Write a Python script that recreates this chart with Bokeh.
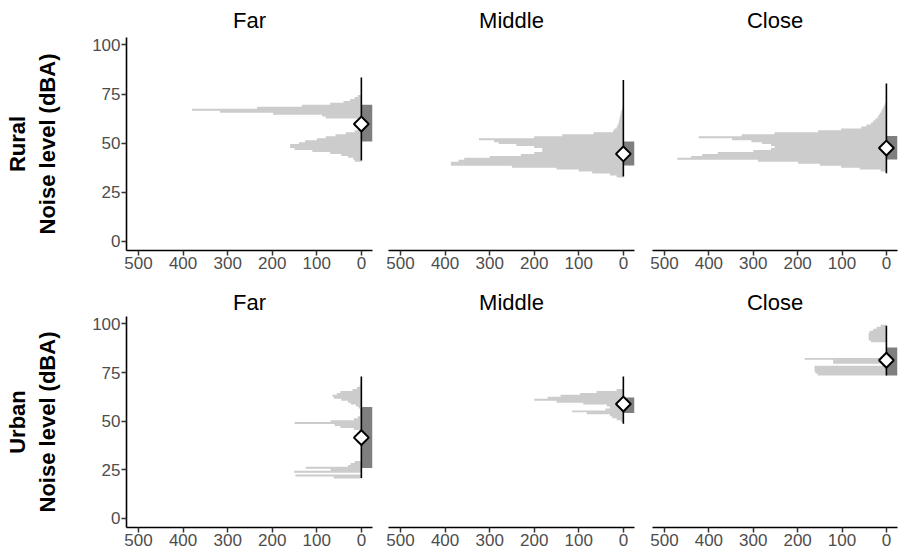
import math
from bokeh.plotting import figure
from bokeh.layouts import row, column
from bokeh.models import Range1d, FixedTicker
from bokeh.embed import file_html
from bokeh.resources import INLINE

# ---------------- data ----------------
area_labels = ["Rural", "Urban"]
distance_labels = ["Far", "Middle", "Close"]
x_ticks = [0, 100, 200, 300, 400, 500]
y_ticks = [0, 25, 50, 75, 100]

# histogram bins (noise level, dBA, 1-dBA wide) and counts per panel
rural_far_levels = list(range(41, 75))
rural_far_counts = [15, 18, 30, 45, 70, 110, 150, 160, 160, 140, 126, 100, 80, 58, 35,
                    15, 0, 0, 0, 0, 0, 3, 80, 88, 198, 317, 380, 234, 133, 70, 40, 25, 15, 8]

rural_middle_levels = list(range(33, 69))
rural_middle_counts = [15, 30, 70, 100, 150, 250, 387, 387, 370, 357, 300, 230, 200, 182, 182,
                       200, 240, 280, 290, 324, 200, 137, 67, 23, 20, 15, 13, 11, 10, 9, 8, 7,
                       6, 5, 3, 2]

rural_close_levels = list(range(36, 71))
rural_close_counts = [13, 60, 102, 150, 199, 289, 471, 440, 415, 380, 300, 260, 252, 260, 280,
                      304, 348, 423, 326, 252, 154, 102, 57, 45, 35, 30, 25, 20, 18, 15, 12,
                      10, 7, 5, 3]

urban_far_levels = list(range(21, 74))
urban_far_counts = [62, 148, 0, 151, 69, 125, 30, 24, 15,
                    0, 0, 0, 0, 0, 0, 0, 0, 0, 0, 0, 0, 0, 0, 0,
                    5, 17, 47, 60, 150, 69, 17, 8,
                    3, 3, 3, 3, 6, 12, 24, 30, 45, 62, 65, 55, 47, 20, 10, 4, 2, 2, 2, 1, 1]

urban_middle_levels = list(range(50, 67))
urban_middle_counts = [5, 15, 25, 30, 82, 115, 40, 30, 37, 90, 150, 200, 170, 141, 97, 60, 15]

urban_close_levels = list(range(74, 100))
urban_close_counts = [155, 160, 162, 162, 162, 10, 120, 120, 184,
                      0, 0, 0, 0, 0, 0, 0, 0,
                      35, 40, 40, 40, 40, 38, 30, 22, 13]

# box summary per panel: Rural Far, Rural Middle, Rural Close, Urban Far, Urban Middle, Urban Close
box_q1 = [50.8, 38.6, 41.6, 25.9, 54.2, 73.4]
box_q3 = [69.5, 50.8, 53.6, 57.3, 62.2, 87.8]
whisker_lo = [41.1, 33.0, 34.7, 20.8, 48.7, 73.4]
whisker_hi = [83.4, 82.1, 80.4, 72.9, 72.9, 99.1]
mean_level = [59.7, 44.5, 47.5, 41.5, 58.8, 81.3]

hist_levels = [rural_far_levels, rural_middle_levels, rural_close_levels,
               urban_far_levels, urban_middle_levels, urban_close_levels]
hist_counts = [rural_far_counts, rural_middle_counts, rural_close_counts,
               urban_far_counts, urban_middle_counts, urban_close_counts]

# ---------------- style ----------------
FONT = "Liberation Sans"
HIST_COLOR = "#cccccc"
BOX_COLOR = "#7f7f7f"
BOX_WIDTH = 25
X_RANGE = (527, -25)
Y_RANGE = (-4.7, 103.8)


def step_outline(levels, counts):
    xs, ys = [0], [levels[0] - 0.5]
    for lv, c in zip(levels, counts):
        xs += [c, c]
        ys += [lv - 0.5, lv + 0.5]
    xs.append(0)
    ys.append(levels[-1] + 0.5)
    return xs, ys


def make_panel(a, d):
    k = a * 3 + d
    top = (a == 0)
    bl = [126, 8, 9][d]
    br = [8, 9, 3][d]
    fw = [246, 246, 245][d]
    bt = 37 if top else 36
    fh = 213 if top else 211
    bb = 30 if top else 24
    p = figure(width=bl + fw + br, height=bt + fh + bb,
               x_range=Range1d(*X_RANGE), y_range=Range1d(*Y_RANGE),
               output_backend="svg", toolbar_location=None,
               y_axis_location="left" if d == 0 else None,
               title=distance_labels[d],
               min_border_left=bl, min_border_right=br,
               min_border_top=bt, min_border_bottom=bb)
    p.outline_line_color = None
    p.xgrid.visible = False
    p.ygrid.visible = False
    p.background_fill_color = "white"
    p.border_fill_color = "white"

    p.title.align = "center"
    p.title.text_font = FONT
    p.title.text_font_size = "22px"
    p.title.text_font_style = "normal"
    p.title.text_color = "black"
    p.title.standoff = 10 if top else 4

    axes = list(p.xaxis) + (list(p.yaxis) if d == 0 else [])
    for ax in axes:
        ax.axis_line_color = "black"
        ax.axis_line_width = 1.6
        ax.major_tick_line_color = "#333333"
        ax.major_tick_line_width = 1.5
        ax.major_tick_out = 5
        ax.major_tick_in = 0
        ax.minor_tick_line_color = None
        ax.major_label_text_font = FONT
        ax.major_label_text_font_size = "17px"
        ax.major_label_text_color = "#4d4d4d"
        ax.major_label_standoff = 1
    p.xaxis.ticker = FixedTicker(ticks=x_ticks)
    if d == 0:
        p.yaxis.ticker = FixedTicker(ticks=y_ticks)
        p.yaxis.axis_label = area_labels[a] + "\nNoise level (dBA)"
        p.yaxis.axis_label_text_font = FONT
        p.yaxis.axis_label_text_font_size = "22px"
        p.yaxis.axis_label_text_font_style = "bold"
        p.yaxis.axis_label_text_color = "black"
        p.yaxis.axis_label_standoff = 29

    # histogram (drawn as one stepped outline so bins join without seams)
    xs, ys = step_outline(hist_levels[k], hist_counts[k])
    p.patch(xs, ys, fill_color=HIST_COLOR, line_color=None)
    # box (IQR)
    p.quad(left=[0], right=[-BOX_WIDTH], bottom=[box_q1[k]], top=[box_q3[k]],
           fill_color=BOX_COLOR, line_color=None)
    # whisker
    p.segment(x0=[0], y0=[whisker_lo[k]], x1=[0], y1=[whisker_hi[k]],
              line_color="black", line_width=1.6)
    # mean
    p.scatter(x=[0], y=[mean_level[k]], marker="square", angle=math.pi / 4,
              size=10.5, fill_color="white", line_color="black", line_width=2)
    return p


rows = []
for a in range(2):
    rows.append(row([make_panel(a, d) for d in range(3)], spacing=0))
layout = column(rows, spacing=0)

open("out.html", "w").write(file_html(layout, INLINE))
